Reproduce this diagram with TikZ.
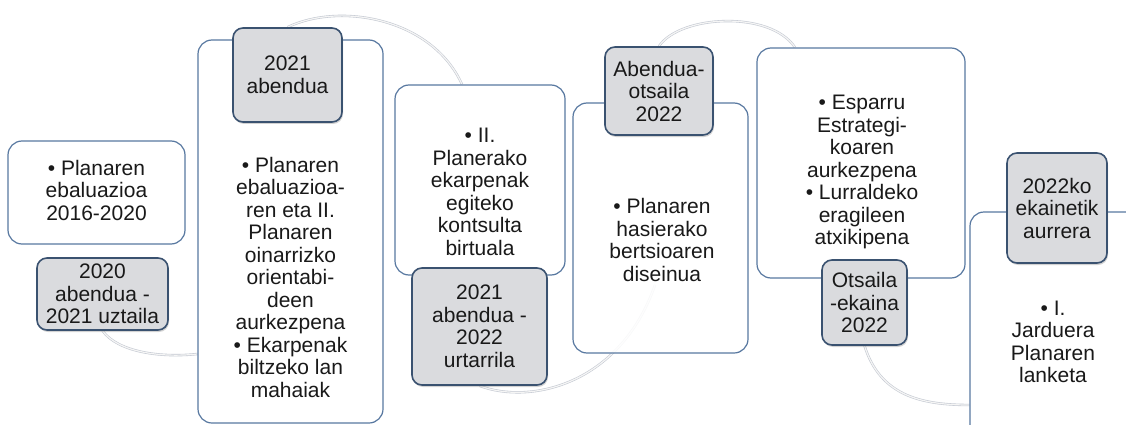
\documentclass[tikz,border=0pt]{standalone}
\usepackage{fontspec}
\setmainfont{Liberation Sans}
\usetikzlibrary{shadows}
\usetikzlibrary{backgrounds}
\definecolor{boxline}{RGB}{88,120,160}
\definecolor{dateline}{RGB}{58,82,112}
\definecolor{datefill}{RGB}{218,219,222}
\definecolor{arcline}{RGB}{196,201,210}
\tikzset{
    mybox/.style = {rectangle, rounded corners=14pt, draw=boxline, line width=1.2pt, fill=white, fill opacity=0.88},
    mydate/.style = {rectangle, rounded corners=10pt, draw=dateline, line width=1.6pt, fill=datefill, align=center, inner sep=2pt, text=black!90,
                     drop shadow={opacity=0.35,shadow xshift=1pt,shadow yshift=-2pt}},
    mytext/.style = {align=center, text=black!90},
    myarc/.style = {draw=arcline, line width=0.6pt, double=black!4, double distance=1.2pt} % background arcs
}

\begin{document}
\begin{tikzpicture}[x=1pt,y=-1pt,font=\fontsize{21}{22.5}\selectfont]
  \useasboundingbox (0,0) rectangle (1126,425);
  \clip (0,0) rectangle (1126,425);

  \node[mybox, minimum width=177pt, minimum height=103pt] (box1) at (96.5,192.5) {};
  \node[mybox, minimum width=185pt, minimum height=383pt] (box2) at (290.5,231.5) {};
  \node[mybox, minimum width=170pt, minimum height=190pt] (box3) at (480,180) {};
  \node[mybox, minimum width=175pt, minimum height=250pt] (box4) at (660.5,228) {};
  \node[mybox, minimum width=208pt, minimum height=230pt] (box5) at (861,163) {};
  \node[mybox, minimum width=190pt, minimum height=248pt] (box6) at (1065,336) {};

  \node[mytext] (text1) at (96.5,190) {• Planaren\\ebaluazioa\\2016-2020};
  \node[mytext] (text2) at (290.5,277) {• Planaren\\ebaluazioa-\\ren eta II.\\Planaren\\oinarrizko\\orientabi-\\deen\\aurkezpena\\• Ekarpenak\\biltzeko lan\\mahaiak};
  \node[mytext] (text3) at (480,192) {• II.\\Planerako\\ekarpenak\\egiteko\\kontsulta\\birtuala};
  \node[mytext] (text4) at (662,240) {• Planaren\\hasierako\\bertsioaren\\diseinua};
  \node[mytext] (text5) at (862,172) {• Esparru\\Estrategi-\\koaren\\aurkezpena\\• Lurraldeko\\eragileen\\atxikipena};
  \node[mytext] (text6) at (1053,342) {• I.\\Jarduera\\Planaren\\lanketa};

  \node[mydate, minimum width=131pt, minimum height=72pt] (date1) at (102.5,294) {2020\\abendua -\\2021 uztaila};
  \node[mydate, minimum width=109pt, minimum height=94pt] (date2) at (287.5,75) {2021\\abendua};
  \node[mydate, minimum width=135pt, minimum height=117pt] (date3) at (479.5,326.5) {2021\\abendua -\\2022\\urtarrila};
  \node[mydate, minimum width=108pt, minimum height=88pt] (date4) at (659,91) {Abendua-\\otsaila\\2022};
  \node[mydate, minimum width=85pt, minimum height=85pt] (date5) at (864.5,302.5) {Otsaila\\-ekaina\\2022};
  \node[mydate, minimum width=100pt, minimum height=110pt] (date6) at (1057,208) {2022ko\\ekainetik\\aurrera};

  \coordinate (a3end) at (655,285);

  \begin{scope}[on background layer]
    \draw[myarc] (date1.south) .. controls (118,352) and (160,358) .. (box2.west |- 0,354);
    \draw[myarc] (date2.north) .. controls (340,2) and (432,18) .. (box3.north -| 462,0);
    \draw[myarc] (date3.south) .. controls (530,405) and (620,385) .. (a3end);
    \draw[myarc] (date4.north) .. controls (680,15) and (770,10) .. (box5.north -| 795,0);
    \draw[myarc] (date5.south) .. controls (880,395) and (920,405) .. (box6.west |- 0,405);
  \end{scope}
\end{tikzpicture}
\end{document}
